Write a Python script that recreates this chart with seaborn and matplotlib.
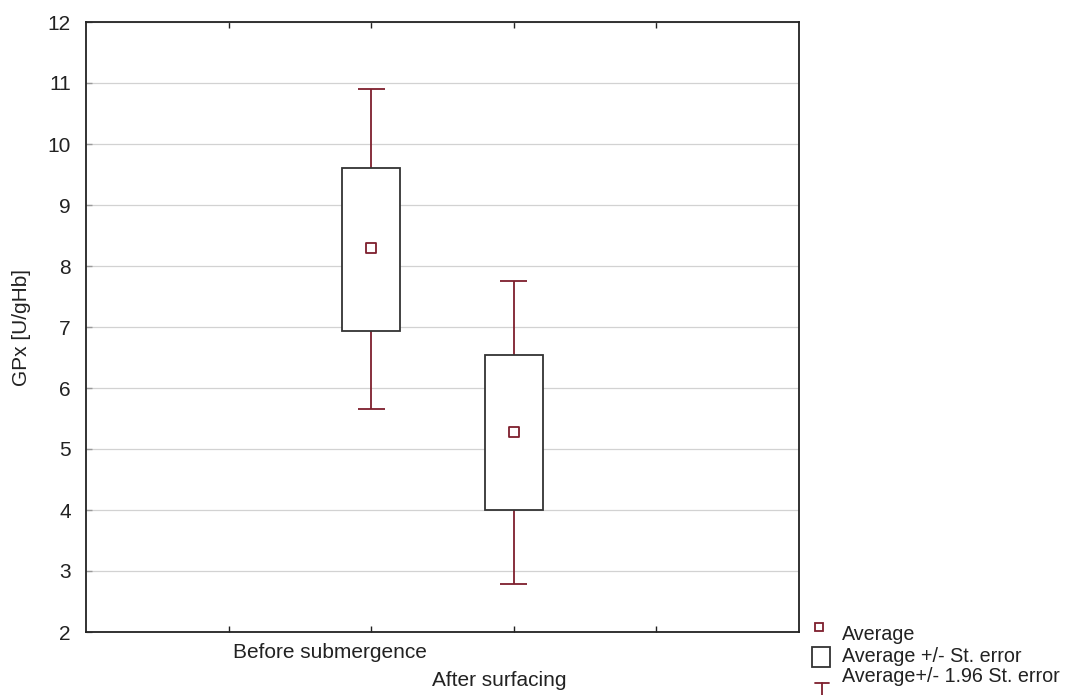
import matplotlib
matplotlib.use("Agg")
import matplotlib.pyplot as plt
import seaborn as sns
import pandas as pd
from matplotlib.lines import Line2D
from matplotlib.patches import Rectangle

# ---- data ----
groups = ["Before submergence", "After surfacing"]
means = [8.30, 5.28]
se_low = [6.93, 4.00]
se_high = [9.61, 6.54]
ci_low = [5.66, 2.79]
ci_high = [10.90, 7.76]
yticks = [2, 3, 4, 5, 6, 7, 8, 9, 10, 11, 12]

positions = [2, 3]
df = pd.DataFrame({"group": groups, "x": positions, "mean": means})

sns.set_theme(style="white")
plt.rcParams["font.family"] = ["Liberation Sans", "DejaVu Sans"]

W, H = 1070, 695
fig = plt.figure(figsize=(W / 100, H / 100), dpi=100)
ax = fig.add_axes([86 / W, 1 - 632 / H, 713 / W, 610 / H])

red = "#7e1f2d"
edge = "#333333"
FS = 15

ax.set_xlim(0, 5)
ax.set_ylim(2, 12)
ax.set_yticks(yticks)
ax.set_yticklabels([str(t) for t in yticks], fontsize=FS)
ax.set_xticks([1, 2, 3, 4])
ax.set_xticklabels([])
ax.grid(axis="y", color="#d2d2d2", linewidth=0.9)
ax.set_axisbelow(True)
for s in ax.spines.values():
    s.set_color("#222222")
    s.set_linewidth(1.3)
ax.tick_params(axis="x", which="both", direction="in", length=4, top=True, bottom=True,
               color="#222222", width=1)
ax.tick_params(axis="y", direction="in", length=4, left=True, right=False,
               color="#999999", width=1, pad=11, labelcolor="#222222")

# whiskers (+/- 1.96 SE)
ax.vlines(positions, ci_low, ci_high, color=red, linewidth=1.3, zorder=2)
cap = 0.095
for x, lo, hi in zip(positions, ci_low, ci_high):
    ax.hlines([lo, hi], x - cap, x + cap, color=red, linewidth=1.3, zorder=2)

# boxes (+/- SE)
ax.bar(positions, [h - l for h, l in zip(se_high, se_low)], bottom=se_low, width=0.41,
       facecolor="white", edgecolor=edge, linewidth=1.3, zorder=3)

# means
sns.scatterplot(data=df, x="x", y="mean", marker="s", s=42, facecolor="white",
                edgecolor=red, linewidth=1.3, ax=ax, zorder=4, legend=False)
ax.set_xlabel("")
ax.set_ylabel("GPx [U/gHb]", fontsize=FS, color="#222222", labelpad=12)

# category labels (staggered)
offsets = [-0.29, -0.10]
ypos = [-21 / 610, -48 / 610]
for x, lab, o, yp in zip(positions, groups, offsets, ypos):
    ax.text(x + o, yp, lab, transform=ax.get_xaxis_transform(), ha="center", va="center",
            fontsize=FS, color="#222222")

# legend (manual, bottom right)
def fx(px):
    return px / W

def fy(py):
    return 1 - py / H

fig.add_artist(Line2D([fx(819)], [fy(627)], marker="s", markersize=6, markerfacecolor="white",
                      markeredgecolor=red, markeredgewidth=1.3, linestyle="none"))
fig.add_artist(Rectangle((fx(812), fy(667)), fx(18), 20 / H, facecolor="white",
                         edgecolor=edge, linewidth=1.3))
fig.add_artist(Line2D([fx(815), fx(829)], [fy(683), fy(683)], color=red, linewidth=1.3))
fig.add_artist(Line2D([fx(822), fx(822)], [fy(683), fy(697)], color=red, linewidth=1.3))
labels = ["Average", "Average +/- St. error", "Average+/- 1.96 St. error"]
ys = [634, 656, 677]
for lab, yy in zip(labels, ys):
    fig.text(fx(842), fy(yy), lab, ha="left", va="center", fontsize=14.2, color="#222222")

fig.savefig("out.png", dpi=100, facecolor="white")
